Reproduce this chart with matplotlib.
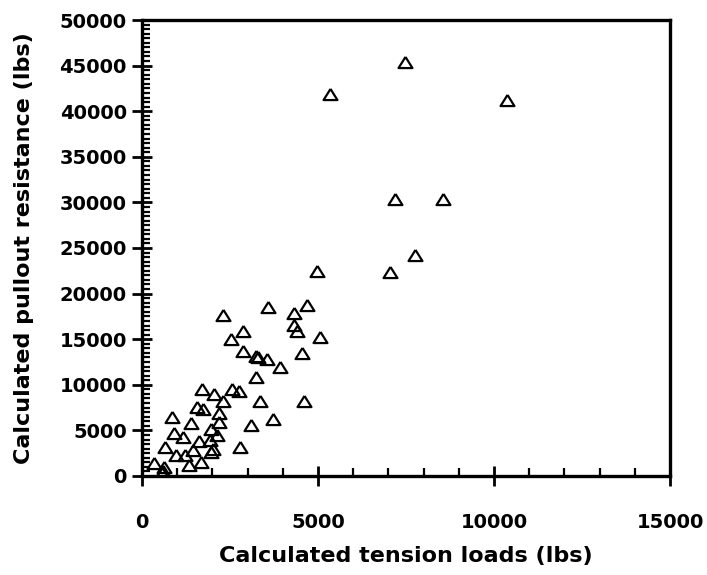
import matplotlib
matplotlib.use("Agg")
import matplotlib.pyplot as plt
from matplotlib.ticker import MultipleLocator

# tension load vs. pullout resistance, both in lbs
tension_lbs = [
    7470, 5340, 10360, 7190, 8560, 7760, 7050, 4960,
    2290, 3590, 4330, 4680, 4330, 4390, 2860, 2520, 5060, 2860,
    3240, 3300, 3540, 4550, 3930, 3240,
    1710, 2050, 2550, 2760, 2310, 1550, 1720, 3350, 4610, 860,
    2190, 1380, 2190, 3090, 3710, 1950, 920, 1160, 2120, 1630,
    1930, 650, 2780, 1440, 2030, 1950, 970, 1220, 340, 1340,
    1670, 630, 590, 560,
]
pullout_lbs = [
    45400, 41900, 41200, 30400, 30400, 24200, 22400, 22500,
    17700, 18500, 17900, 18800, 16600, 15900, 15900, 15000, 15200, 13700,
    13200, 13000, 12800, 13450, 11900, 10800,
    9500, 8950, 9540, 9350, 8250, 7600, 7350, 8200, 8200, 6500,
    6950, 5850, 5950, 5600, 6300, 5200, 4750, 4300, 4500, 3850,
    3950, 3200, 3200, 2850, 3000, 2600, 2350, 2300, 1450, 1200,
    1550, 1000, 550, 300,
]

plt.rcParams["font.family"] = ["DejaVu Sans"]
plt.rcParams["font.weight"] = "bold"

fig = plt.figure(figsize=(7.07, 5.75), dpi=100)
ax = fig.add_axes([0.2008, 0.1722, 0.7469, 0.793])

# a slightly flattened open triangle
tri = [(0, 0.8), (-1, -0.8), (1, -0.8), (0, 0.8)]
ax.plot(tension_lbs, pullout_lbs, linestyle="none", marker=tri,
        markersize=10, markerfacecolor="none", markeredgecolor="black",
        markeredgewidth=1.6)

ax.set_xlim(0, 15000)
ax.set_ylim(0, 50000)
ax.xaxis.set_major_locator(MultipleLocator(5000))
ax.xaxis.set_minor_locator(MultipleLocator(1000))
ax.yaxis.set_major_locator(MultipleLocator(5000))
ax.yaxis.set_minor_locator(MultipleLocator(500))

for side in ax.spines.values():
    side.set_linewidth(2.4)

ax.tick_params(which="major", direction="inout", length=14, width=2,
               labelsize=14)
ax.tick_params(axis="x", which="major", pad=20)
ax.tick_params(axis="y", which="major", pad=4)
ax.tick_params(which="minor", direction="in", length=6, width=1.6)
ax.tick_params(top=False, right=False, which="both")

for lbl in ax.get_xticklabels() + ax.get_yticklabels():
    lbl.set_fontweight("bold")

ax.set_xlabel("Calculated tension loads (lbs)", fontsize=16,
              fontweight="bold", labelpad=10)
ax.set_ylabel("Calculated pullout resistance (lbs)", fontsize=16,
              fontweight="bold", labelpad=18)

fig.savefig("out.png", dpi=100)
